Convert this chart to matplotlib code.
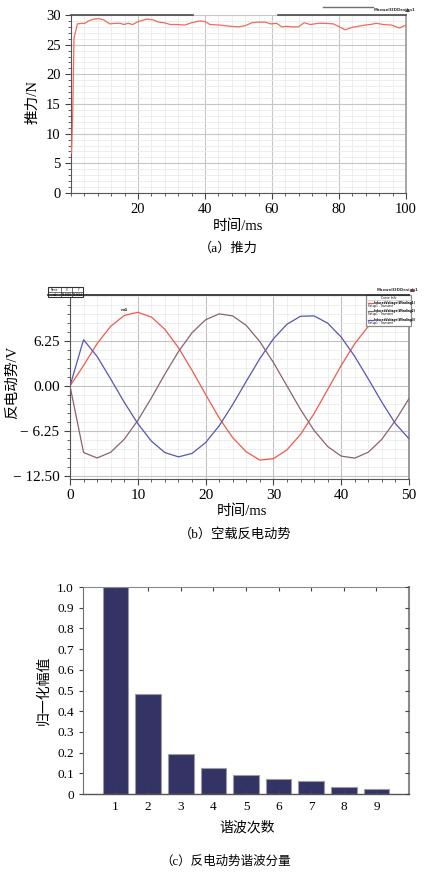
import matplotlib
matplotlib.use('Agg')
import matplotlib.pyplot as plt
from matplotlib.ticker import MultipleLocator, FixedLocator
from matplotlib.patches import Rectangle, Polygon

plt.rcParams['font.family'] = ['Liberation Serif', 'Noto Sans CJK SC']
plt.rcParams['axes.unicode_minus'] = True

# ---------------- data ----------------
# (a) thrust
thrust_t = [0.15, 0.5, 0.9, 1.9, 3.2, 4.2, 5.2, 6.7, 8.2, 9.7, 11.6, 13.1, 14.6, 15.8,
            17.1, 18.4, 20.1, 22.6, 24.4, 26.1, 27.8, 29.6, 31.5, 34.0, 36.0, 38.5,
            40.0, 41.5, 44.5, 47.5, 50.0, 52.0, 54.0, 56.0, 58.0, 59.6, 61.4, 62.9,
            64.4, 65.9, 67.9, 69.6, 71.5, 73.8, 75.8, 78.3, 79.8, 81.8, 83.8, 85.8,
            87.8, 89.3, 91.2, 93.2, 95.7, 98.0, 100.0]
thrust_f = [6.7, 13.1, 26.1, 28.5, 28.6, 28.6, 29.0, 29.3, 29.4, 29.2, 28.5, 28.6, 28.6, 28.4,
            28.6, 28.4, 28.9, 29.3, 29.2, 28.8, 28.7, 28.4, 28.4, 28.3, 28.7, 29.0,
            28.9, 28.4, 28.3, 28.1, 28.0, 28.2, 28.7, 28.8, 28.8, 28.5, 28.6, 28.0,
            28.1, 28.0, 28.0, 28.7, 28.4, 28.6, 28.6, 28.5, 28.1, 27.5, 27.9, 28.1,
            28.3, 28.4, 28.6, 28.4, 28.3, 27.8, 28.3]

# (b) no-load back EMF, three phases
emf_t = [0, 2, 4, 6, 8, 10, 12, 14, 16, 18, 20, 22, 24, 26, 28, 30, 32, 34, 36, 38,
         40, 42, 44, 46, 48, 50]
emf_red = [0.0, 2.83, 5.86, 8.25, 9.75, 10.19, 9.53, 7.83, 5.28, 2.17, -1.17, -4.41,
           -7.15, -9.10, -10.25, -10.05, -8.83, -6.69, -3.82, -0.50, 2.83, 5.86, 8.25,
           9.75, 10.19, 9.53]
emf_purple = [0.0, -9.2, -9.95, -9.16, -7.36, -4.76, -1.65, 1.65, 4.76, 7.36, 9.16, 9.97,
              9.69, 8.37, 6.14, 3.25, 0.0, -3.25, -6.14, -8.37, -9.69, -9.97, -9.16,
              -7.36, -4.76, -1.75]
emf_blue = [0.0, 6.4, 4.08, 0.97, -2.25, -5.20, -7.62, -9.21, -9.80, -9.32, -7.83, -5.51,
            -2.56, 0.65, 3.79, 6.52, 8.54, 9.64, 9.69, 8.69, 6.76, 4.08, 0.97, -2.25,
            -5.20, -7.30]

# (c) harmonic spectrum
harm_order = [1, 2, 3, 4, 5, 6, 7, 8, 9]
harm_amp = [1.0, 0.484, 0.192, 0.125, 0.094, 0.073, 0.063, 0.032, 0.024]

W, H = 424, 872
fig = plt.figure(figsize=(W / 100, H / 100), dpi=100)


def pos(l, t, r, b):
    return [l / W, 1 - b / H, (r - l) / W, (b - t) / H]


def fx(x):
    return x / W


def fy(y):
    return 1 - y / H


# ---------------- (a) ----------------
ax1 = fig.add_axes(pos(71, 15, 406, 193))
ax1.plot(thrust_t, thrust_f, color='#f26a5a', lw=0.9, zorder=3)
ax1.set_xlim(0, 100)
ax1.set_ylim(0, 30)
ax1.xaxis.set_major_locator(FixedLocator([20, 40, 60, 80, 100]))
ax1.xaxis.set_minor_locator(MultipleLocator(4))
ax1.yaxis.set_major_locator(MultipleLocator(5))
ax1.yaxis.set_minor_locator(MultipleLocator(1))
ax1.grid(which='major', color='#c6c6c6', lw=0.8)
ax1.grid(which='minor', color='#ebebeb', lw=0.6)
ax1.set_axisbelow(True)
ax1.tick_params(which='both', direction='out', labelsize=10.5, color='#444')
ax1.tick_params(which='major', length=4, width=0.8)
ax1.tick_params(which='minor', length=2.5, width=0.6)
ax1.spines['top'].set_visible(False)
ax1.spines['right'].set_color('#9a9a9a')
ax1.spines['right'].set_linewidth(1.2)
ax1.spines['left'].set_color('#555555')
ax1.spines['bottom'].set_color('#555555')

fig.text(fx(33), fy(102), '推力/N', rotation=90, ha='center', va='center', fontsize=10.5)
fig.text(fx(238), fy(226), '时间/ms', ha='center', va='center', fontsize=10.5)
fig.text(fx(228), fy(248), '（a）推力', ha='center', va='center', fontsize=9.5)

# ---------------- (b) ----------------
ax2 = fig.add_axes(pos(70, 295, 409, 479))
ax2.plot(emf_t, emf_red, color='#f05a4a', lw=0.9, zorder=3)
ax2.plot(emf_t, emf_purple, color='#8a6272', lw=0.9, zorder=3)
ax2.plot(emf_t, emf_blue, color='#5656b4', lw=0.9, zorder=3)
ax2.set_xlim(0, 50)
ax2.set_ylim(-12.86, 12.58)
ax2.xaxis.set_major_locator(MultipleLocator(10))
ax2.xaxis.set_minor_locator(MultipleLocator(2))
ax2.yaxis.set_major_locator(FixedLocator([-12.5, -6.25, 0.0, 6.25]))
ax2.yaxis.set_minor_locator(MultipleLocator(1.25))
ax2.set_yticklabels(['\u2212 12.50', '\u2212 6.25', '0.00', '6.25'])
ax2.grid(which='major', color='#c2c2c2', lw=0.8)
ax2.grid(which='minor', color='#ebebeb', lw=0.6)
ax2.set_axisbelow(True)
ax2.tick_params(which='both', direction='out', labelsize=11, color='#444')
ax2.tick_params(which='major', length=4, width=0.8)
ax2.tick_params(which='minor', length=2.5, width=0.6)
ax2.spines['top'].set_visible(False)
ax2.spines['right'].set_color('#9a9a9a')
ax2.spines['right'].set_linewidth(1.4)
ax2.spines['left'].set_color('#555555')
ax2.spines['bottom'].set_color('#555555')
ax2.text(8, 10.2, 'm1', fontsize=3.2, color='#333333', ha='center', va='bottom',
         fontweight='bold', family='DejaVu Sans', zorder=4)

fig.text(fx(12), fy(382), '反电动势/V', rotation=90, ha='center', va='center', fontsize=10.5)
fig.text(fx(242), fy(511), '时间/ms', ha='center', va='center', fontsize=10.5)
fig.text(fx(235), fy(534), '（b）空载反电动势', ha='center', va='center', fontsize=9.5)

# ---------------- (c) ----------------
ax3 = fig.add_axes(pos(83, 587, 409, 794))
ax3.bar(harm_order, harm_amp, width=0.78, color='#333366', edgecolor='#9c9c9c', lw=0.8)
ax3.set_xlim(0, 10)
ax3.set_ylim(0, 1.0)
ax3.set_xticks(harm_order)
ax3.set_yticks([i / 10 for i in range(11)])
ax3.set_yticklabels(['0'] + ['%.1f' % (i / 10) for i in range(1, 11)])
ax3.tick_params(axis='y', which='both', direction='out', length=3, labelsize=9.5, color='#444')
ax3.tick_params(axis='x', which='both', direction='in', length=3, labelsize=9.5, color='#444',
                top=True, pad=5)
ax3.tick_params(axis='y', right=True)
for s in ['top', 'right']:
    ax3.spines[s].set_color('#8a8a8a')
ax3.spines['right'].set_linewidth(1.5)
ax3.spines['left'].set_color('#707070')
ax3.spines['bottom'].set_color('#555555')
ax3.spines['bottom'].set_linewidth(1.0)

# inward right ticks drawn separately from outward left ticks
ax3r = ax3.twinx()
ax3r.set_ylim(0, 1.0)
ax3r.set_yticks([i / 10 for i in range(11)])
ax3r.set_yticklabels([])
ax3r.tick_params(axis='y', direction='in', length=3, color='#444')
for s in ax3r.spines.values():
    s.set_visible(False)
ax3.tick_params(axis='y', right=False)

fig.text(fx(44), fy(690), '归一化幅值', rotation=90, ha='center', va='center', fontsize=10)
fig.text(fx(247), fy(828), '谐波次数', ha='center', va='center', fontsize=10)
fig.text(fx(226), fy(862), '（c）反电动势谐波分量', ha='center', va='center', fontsize=9)

# ---------------- overlay (Ansoft plot decorations) ----------------
ov = fig.add_axes([0, 0, 1, 1], zorder=10)
ov.set_xlim(0, W)
ov.set_ylim(H, 0)
ov.axis('off')
ov.patch.set_alpha(0)

# panel (a) header
ov.plot([71, 193], [15, 15], color='#4a4a4a', lw=1.2)
ov.plot([278, 406], [15, 15], color='#4a4a4a', lw=1.2)
ov.plot([323, 373], [7, 7], color='#707070', lw=1.0)
ov.text(374, 10.5, 'Maxwell3DDesign1', fontsize=2.8, va='center', ha='left',
        family='DejaVu Sans', fontweight='bold', color='#333333')
ov.add_patch(Polygon([[405, 12], [410, 12], [407.5, 8]], closed=True, fc='#555555', ec='none'))

# panel (b) header / marker table / legend
ov.plot([48, 409], [295, 295], color='#222222', lw=1.2)
ov.add_patch(Rectangle((48, 287), 35, 10, fc='white', ec='#333333', lw=0.8))
ov.plot([48, 83], [292, 292], color='#333333', lw=0.5)
ov.plot([61, 61], [287, 297], color='#333333', lw=0.5)
ov.plot([72, 72], [287, 297], color='#333333', lw=0.5)
for x, s in [(54.5, 'Name'), (66.5, 'X'), (77.5, 'Y')]:
    ov.text(x, 289.6, s, fontsize=1.8, ha='center', va='center', family='DejaVu Sans')
for x, s in [(54.5, 'm1'), (66.5, '10.0000'), (77.5, '10.0643')]:
    ov.text(x, 294.6, s, fontsize=1.8, ha='center', va='center', family='DejaVu Sans')

ov.text(377, 290, 'Maxwell3DDesign1', fontsize=2.8, va='center', ha='left',
        family='DejaVu Sans', fontweight='bold', color='#333333')
ov.add_patch(Polygon([[410, 292], [415, 292], [412.5, 288]], closed=True, fc='#884444', ec='none'))

ov.add_patch(Rectangle((366, 295), 45, 31, fc='white', ec='#8a8a8a', lw=0.9))
ov.plot([366, 411], [300, 300], color='#bbbbbb', lw=0.4)
ov.text(388.5, 297.6, 'Curve Info', fontsize=2.2, ha='center', va='center', family='DejaVu Sans')
legend_items = [('#f05a4a', 'InducedVoltage(Winding1)'),
                ('#8a6272', 'InducedVoltage(Winding2)'),
                ('#5656b4', 'InducedVoltage(Winding3)')]
for i, (c, s) in enumerate(legend_items):
    y0 = 303 + i * 8.3
    ov.plot([367.5, 373], [y0, y0], color=c, lw=0.9)
    ov.text(374, y0, s, fontsize=2.0, ha='left', va='center', family='DejaVu Sans', fontweight='bold')
    ov.text(367.5, y0 + 3, 'Setup1 : Transient', fontsize=2.0, ha='left', va='center', family='DejaVu Sans')

fig.savefig('out.png', dpi=100)
